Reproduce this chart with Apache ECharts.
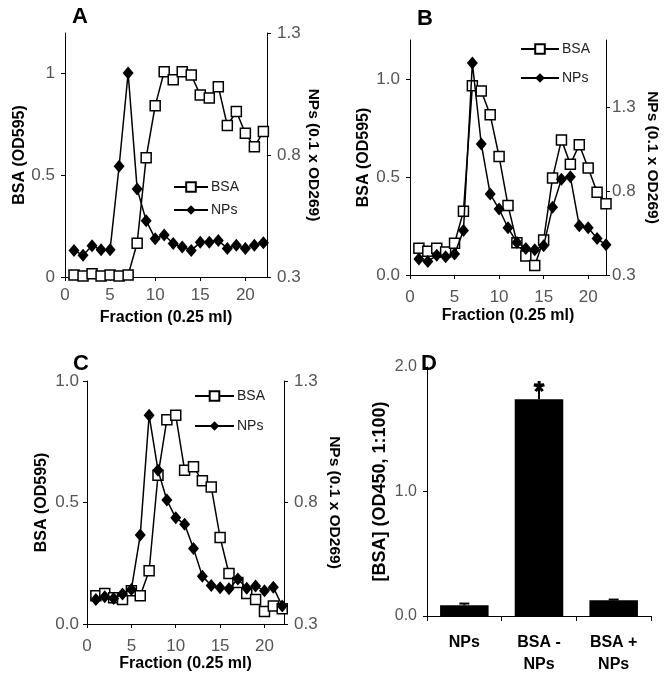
<!DOCTYPE html>
<html>
<head>
<meta charset="utf-8">
<script src="https://cdn.jsdelivr.net/npm/echarts@6/dist/echarts.min.js"></script>
<style>
html,body{margin:0;padding:0;background:#fff;}
#chart{width:667px;height:678px;}
</style>
</head>
<body>
<div id="chart"></div>
<script>
// ---------- data ----------
const fractions = [1,2,3,4,5,6,7,8,9,10,11,12,13,14,15,16,17,18,19,20,21,22];
const bsaA = [0.01,0.005,0.016,0.005,0.01,0.005,0.01,0.166,0.587,0.842,1.01,0.97,1.01,0.993,0.895,0.88,0.936,0.745,0.814,0.707,0.64,0.715];
const npsA = [0.409,0.389,0.428,0.412,0.412,0.754,1.136,0.661,0.531,0.457,0.472,0.437,0.423,0.409,0.442,0.442,0.45,0.417,0.43,0.417,0.43,0.44];
const bsaB = [0.136,0.121,0.136,0.117,0.162,0.325,0.966,0.94,0.818,0.605,0.355,0.165,0.097,0.049,0.179,0.495,0.69,0.565,0.665,0.546,0.423,0.364];
const npsB = [0.395,0.381,0.417,0.409,0.425,0.565,1.563,1.081,0.782,0.693,0.581,0.494,0.458,0.45,0.474,0.703,0.871,0.885,0.593,0.581,0.517,0.48];
const bsaC = [0.116,0.126,0.108,0.101,0.137,0.116,0.219,0.612,0.841,0.859,0.633,0.647,0.589,0.564,0.356,0.208,0.171,0.126,0.101,0.051,0.074,0.063];
const npsC = [0.401,0.412,0.405,0.423,0.442,0.666,1.159,0.933,0.81,0.737,0.711,0.611,0.497,0.458,0.449,0.445,0.485,0.447,0.456,0.437,0.451,0.374];
const xTicks = [0,5,10,15,20];
const bsaTicks = [0,0.5,1];
const npsTicks = [0.3,0.8,1.3];
const barTicks = [0,1,2];
const barCategories = ['NPs','BSA -\nNPs','BSA +\nNPs'];
const barValues = [0.086,1.74,0.126];
const barErrors = [0.014,0.12,0.006];
const barMarks = ['','*',''];

// ---------- style ----------
const FONT = '"Liberation Sans", Arial, sans-serif';
const tickText = {color:'#555', fontSize:17, fontFamily:FONT};
const nameText = {color:'#000', fontSize:16, fontWeight:'bold', fontFamily:FONT};
const axLine = {show:true, lineStyle:{color:'#000', width:1}};
const axTick = (vals)=>({show:true, length:4, customValues:vals, lineStyle:{color:'#000'}});

function xAxisFor(grid, max, margin, gap){
  return {type:'value', gridIndex:grid, min:0, max:max,
    axisLine:axLine, axisTick:axTick(xTicks), splitLine:{show:false},
    axisLabel:Object.assign({customValues:xTicks, margin:margin}, tickText),
    name:'Fraction (0.25 ml)', nameLocation:'middle', nameGap:gap, nameTextStyle:nameText};
}
function leftAxis(grid, max, fixed, gap, margin){
  return {type:'value', gridIndex:grid, position:'left', min:0, max:max,
    axisLine:axLine, axisTick:axTick(bsaTicks), splitLine:{show:false},
    axisLabel:Object.assign({customValues:bsaTicks, margin:margin,
      formatter:v=> fixed ? v.toFixed(1) : String(v)}, tickText),
    name:'BSA (OD595)', nameLocation:'middle', nameRotate:90, nameGap:gap, nameTextStyle:nameText};
}
function rightAxis(grid, max, gap, margin){
  return {type:'value', gridIndex:grid, position:'right', min:0.3, max:max,
    axisLine:axLine, axisTick:axTick(npsTicks), splitLine:{show:false},
    axisLabel:Object.assign({customValues:npsTicks, margin:margin, formatter:v=>v.toFixed(1)}, tickText),
    name:'NPs (0.1 x OD269)', nameLocation:'middle', nameRotate:-90, nameGap:gap,
    nameTextStyle:Object.assign({}, nameText, {fontSize:15.5})};
}
function bsaSeries(xi, yi, vals){
  return {type:'line', name:'BSA', xAxisIndex:xi, yAxisIndex:yi,
    data:fractions.map((f,i)=>[f, vals[i]]), symbol:'rect', symbolSize:10, showAllSymbol:true,
    lineStyle:{color:'#000', width:1.5}, itemStyle:{color:'#fff', borderColor:'#000', borderWidth:1.5},
    z:2, animation:false};
}
function npsSeries(xi, yi, vals){
  return {type:'line', name:'NPs', xAxisIndex:xi, yAxisIndex:yi,
    data:fractions.map((f,i)=>[f, vals[i]]), symbol:'diamond', symbolSize:[11,13], showAllSymbol:true,
    lineStyle:{color:'#000', width:1.5}, itemStyle:{color:'#000'},
    z:3, animation:false};
}
function legendAt(left, top, gap, w){
  return {data:['BSA','NPs'], orient:'vertical', left:left, top:top, itemGap:gap, itemWidth:w, itemHeight:12,
    selectedMode:false, textStyle:{color:'#222', fontSize:14, fontFamily:FONT, padding:[0,0,0,-2]}};
}
const letter = (t,l,tp)=>({text:t, left:l, top:tp, padding:0,
  textStyle:{fontSize:22, fontWeight:'bold', color:'#000', fontFamily:FONT}});

const chart = echarts.init(document.getElementById('chart'), null, {renderer:'canvas'});
chart.setOption({
  backgroundColor:'#fff',
  animation:false,
  title:[letter('A',72,6), letter('B',417,8), letter('C',73,353), letter('D',421,353)],
  legend:[legendAt(168,175,9,34), legendAt(515,37,15,38), legendAt(189,384,16,39)],
  grid:[
    {left:65, top:33, width:202, height:244},
    {left:410, top:40, width:196, height:235},
    {left:87, top:381, width:197, height:243},
    {left:427, top:367, width:224, height:249}
  ],
  xAxis:[
    xAxisFor(0, 22.4, 10, 33),
    xAxisFor(1, 22, 14, 33),
    xAxisFor(2, 22.2, 14, 31),
    {type:'category', gridIndex:3, data:barCategories,
      axisLine:axLine, axisTick:{show:true, length:5, lineStyle:{color:'#000'}},
      axisLabel:{color:'#000', fontSize:16, fontWeight:'bold', fontFamily:FONT, margin:16, lineHeight:22}}
  ],
  yAxis:[
    leftAxis(0, 1.2, false, 36, 10),
    rightAxis(0, 1.3, 38, 10),
    leftAxis(1, 1.2, true, 38, 10),
    rightAxis(1, 1.7, 38, 6),
    leftAxis(2, 1.0, true, 37, 8),
    rightAxis(2, 1.3, 42, 10),
    {type:'value', gridIndex:3, min:0, max:2,
      axisLine:axLine, axisTick:axTick(barTicks), splitLine:{show:false},
      axisLabel:Object.assign({customValues:barTicks, margin:10, formatter:v=>v.toFixed(1)}, tickText, {fontSize:16}),
      name:'[BSA] (OD450, 1:100)', nameLocation:'middle', nameRotate:90, nameGap:38,
      nameTextStyle:Object.assign({}, nameText, {fontSize:18})}
  ],
  series:[
    bsaSeries(0,0,bsaA), npsSeries(0,1,npsA),
    bsaSeries(1,2,bsaB), npsSeries(1,3,npsB),
    bsaSeries(2,4,bsaC), npsSeries(2,5,npsC),
    {type:'custom', xAxisIndex:3, yAxisIndex:6, z:3,
      data:barCategories.map((c,i)=>[i, barValues[i], barErrors[i]]),
      renderItem:function(params, api){
        const x = api.value(0), y = api.value(1), e = api.value(2);
        const p0 = api.coord([x, y]); const p1 = api.coord([x, y + e]);
        return {type:'group', children:[
          {type:'line', shape:{x1:p0[0], y1:p0[1], x2:p1[0], y2:p1[1]}, style:{stroke:'#000', lineWidth:2}},
          {type:'line', shape:{x1:p1[0]-5, y1:p1[1], x2:p1[0]+5, y2:p1[1]}, style:{stroke:'#000', lineWidth:2}}
        ]};
      }},
    {type:'bar', xAxisIndex:3, yAxisIndex:6, data:barValues, barWidth:'65%',
      itemStyle:{color:'#000'},
      label:{show:true, position:'top', distance:-8, formatter:p=>barMarks[p.dataIndex],
        fontSize:30, fontWeight:'bold', color:'#000', fontFamily:FONT}, z:4}
  ]
});
</script>
</body>
</html>
